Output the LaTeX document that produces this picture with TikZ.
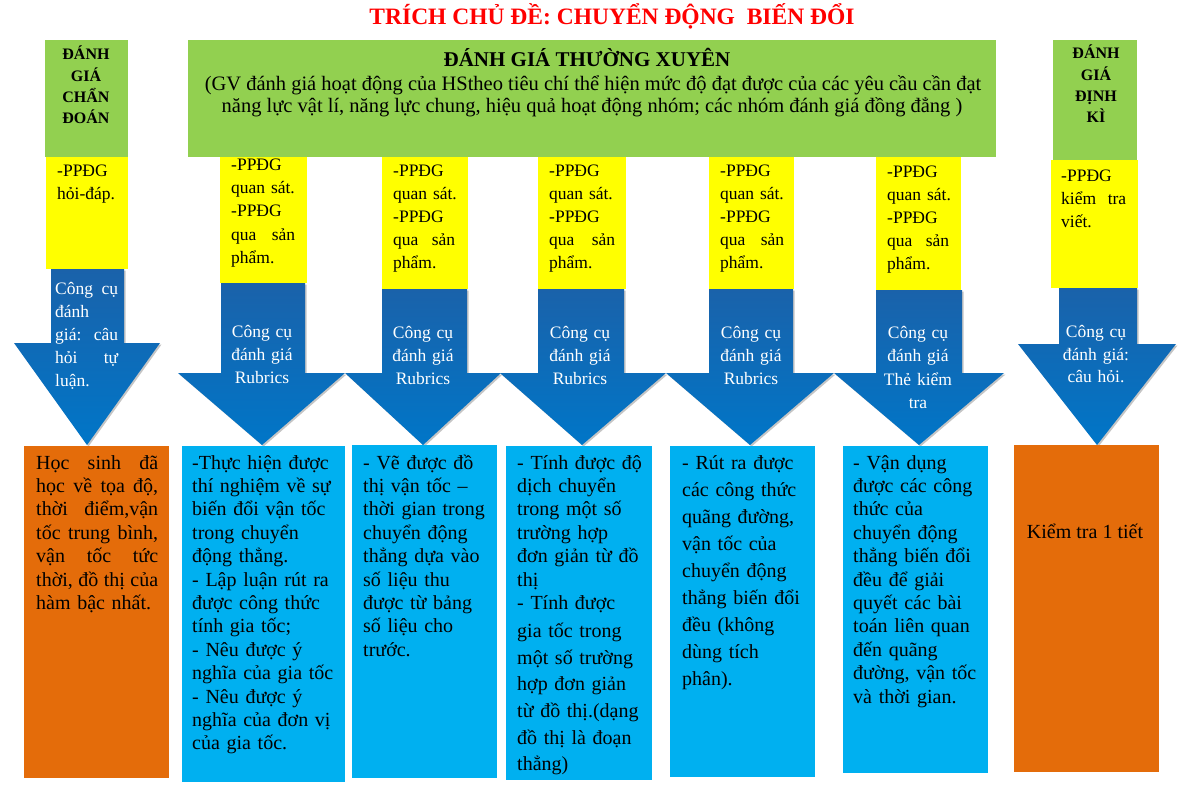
\documentclass[tikz,border=0pt]{standalone}
\usepackage{fontspec}
\setmainfont{Liberation Serif}
\usetikzlibrary{shadows}
\definecolor{grn}{HTML}{92D050}
\definecolor{yel}{HTML}{FFFF00}
\definecolor{lbl}{HTML}{00B0F0}
\definecolor{org}{HTML}{E46C0A}
\definecolor{arb}{HTML}{0076C8}
\definecolor{ard}{HTML}{1A62AA}
\newcommand\jl[2]{\leavevmode\hbox to #1pt{#2}}
\newcommand\fsA{\fontsize{20pt}{23.4pt}\selectfont}
\newcommand\fsB{\fontsize{17.5pt}{23pt}\selectfont}
\tikzset{
  box/.style={draw=none, inner sep=0, outer sep=0, anchor=north west},
  gbox/.style={box, fill=grn},
  ybox/.style={box, fill=yel},
  bbox/.style={box, fill=lbl},
  obox/.style={box, fill=org},
  darrow/.style={top color=ard, bottom color=arb, draw=none,
     drop shadow={shadow xshift=1.5pt, shadow yshift=-1.5pt, fill=black!45, opacity=0.5}},
  btxt/.style={inner sep=0, anchor=base west, align=left, font=\fsA},
  ytxt/.style={inner sep=0, anchor=base west, align=left, font=\fsB, text width=80},
  atxt/.style={inner sep=0, anchor=base, align=center, font=\fsB, text=white, text width=100},
  htxt/.style={inner sep=0, anchor=base, font=\bfseries\fontsize{16pt}{21.2pt}\selectfont, align=center, text width=80},
}
\begin{document}
\begin{tikzpicture}[x=1pt,y=-1pt]
\useasboundingbox (0,0) rectangle (1199,797);
\fill[white] (0,0) rectangle (1199,797);

% title
\node[inner sep=0, anchor=base, text=red, font=\bfseries\fontsize{23.5pt}{28pt}\selectfont] (title) at (612,25) {TRÍCH CHỦ ĐỀ: CHUYỂN ĐỘNG\ \ BIẾN ĐỔI};

% green boxes
\node[gbox, minimum width=83, minimum height=117] (gL) at (45,40) {};
\node[gbox, minimum width=808, minimum height=117] (gM) at (188,40) {};
\node[gbox, minimum width=84, minimum height=120] (gR) at (1053,40) {};

% yellow boxes
\node[ybox, minimum width=82, minimum height=112] (yL) at (46,157) {};
\node[ybox, minimum width=87, minimum height=126] (y1) at (220,157) {};
\node[ybox, minimum width=86, minimum height=132] (y2) at (382,157) {};
\node[ybox, minimum width=88, minimum height=132] (y3) at (538,157) {};
\node[ybox, minimum width=85, minimum height=132] (y4) at (709,157) {};
\node[ybox, minimum width=85, minimum height=133] (y5) at (876,157) {};
\node[ybox, minimum width=87, minimum height=128] (yR) at (1051,160) {};

% arrows
\path[darrow] (51,269) -- (124,269) -- (124,343) -- (160,343) -- (87,445) -- (14,343) -- (51,343) -- cycle;
\path[darrow] (221,283) -- (305,283) -- (305,373) -- (345,373) -- (262,445) -- (178,373) -- (221,373) -- cycle;
\path[darrow] (382,289) -- (467,289) -- (467,373) -- (501,373) -- (423,445) -- (345,373) -- (382,373) -- cycle;
\path[darrow] (538,289) -- (624,289) -- (624,373) -- (666,373) -- (582,445) -- (500,373) -- (538,373) -- cycle;
\path[darrow] (709,289) -- (793,289) -- (793,373) -- (834,373) -- (750,445) -- (666,373) -- (709,373) -- cycle;
\path[darrow] (876,290) -- (962,290) -- (962,373) -- (1004,373) -- (919,445) -- (834,373) -- (876,373) -- cycle;
\path[darrow] (1059,288) -- (1137,288) -- (1137,344) -- (1176,344) -- (1097,445) -- (1018,344) -- (1059,344) -- cycle;

% bottom boxes
\node[obox, minimum width=145, minimum height=332] (oL) at (24,446) {};
\node[bbox, minimum width=163, minimum height=336] (b1) at (182,446) {};
\node[bbox, minimum width=145, minimum height=333] (b2) at (352,445) {};
\node[bbox, minimum width=146, minimum height=334] (b3) at (506,446) {};
\node[bbox, minimum width=145, minimum height=331] (b4) at (670,446) {};
\node[bbox, minimum width=145, minimum height=327] (b5) at (843,446) {};
\node[obox, minimum width=145, minimum height=327] (oR) at (1014,445) {};

% header texts
\node[htxt] (tL) at (86,60) {ĐÁNH\\GIÁ\\CHẨN\\ĐOÁN};
\node[htxt] (tR) at (1096,59) {ĐÁNH\\GIÁ\\ĐỊNH\\KÌ};
\node[inner sep=0, anchor=base, font=\bfseries\fontsize{21pt}{24pt}\selectfont] (hd1) at (587,67) {ĐÁNH GIÁ THƯỜNG XUYÊN};
\node[inner sep=0, anchor=base, font=\fontsize{20.5pt}{23pt}\selectfont] (hd2) at (593,90.5) {(GV đánh giá hoạt động của HStheo tiêu chí thể hiện mức độ đạt được của các yêu cầu cần đạt};
\node[inner sep=0, anchor=base, font=\fontsize{20.5pt}{23pt}\selectfont] (hd3) at (592,112.5) {năng lực vật lí, năng lực chung, hiệu quả hoạt động nhóm; các nhóm đánh giá đồng đẳng )};

% yellow texts
\node[ytxt] (pL) at (57,176.5) {-PPĐG\\hỏi-đáp.};
\node[ytxt, font={\fontsize{17.5pt}{23.25pt}\selectfont}] (p1) at (231,170.5) {-PPĐG\\quan sát.\\-PPĐG\\\jl{64}{qua\hfill sản}\\phẩm.};
\node[ytxt] (p2) at (393,176.5) {-PPĐG\\quan sát.\\-PPĐG\\\jl{62}{qua\hfill sản}\\phẩm.};
\node[ytxt] (p3) at (549,176.5) {-PPĐG\\quan sát.\\-PPĐG\\\jl{66}{qua\hfill sản}\\phẩm.};
\node[ytxt] (p4) at (720,176.5) {-PPĐG\\quan sát.\\-PPĐG\\\jl{64}{qua\hfill sản}\\phẩm.};
\node[ytxt] (p5) at (887,177.5) {-PPĐG\\quan sát.\\-PPĐG\\\jl{62}{qua\hfill sản}\\phẩm.};
\node[ytxt] (pR) at (1061,181.5) {-PPĐG\\\jl{65}{kiểm\hfill tra}\\viết.};

% arrow texts
\node[ytxt, text=white] (cL) at (55,294.5) {\jl{63}{Công\hfill cụ}\\đánh\\\jl{63}{giá:\hfill câu}\\\jl{63}{hỏi\hfill tự}\\luận.};
\node[atxt] (c1) at (262,337.5) {Công cụ\\đánh giá\\Rubrics};
\node[atxt] (c2) at (423,338.5) {Công cụ\\đánh giá\\Rubrics};
\node[atxt] (c3) at (580,338.5) {Công cụ\\đánh giá\\Rubrics};
\node[atxt] (c4) at (751,338.5) {Công cụ\\đánh giá\\Rubrics};
\node[atxt, font={\fontsize{17.5pt}{23.3pt}\selectfont}] (c5) at (918,338.5) {Công cụ\\đánh giá\\Thẻ kiểm\\tra};
\node[atxt, font={\fontsize{17.5pt}{22.5pt}\selectfont}] (cR) at (1096,337.5) {Công cụ\\đánh giá:\\câu hỏi.};

% bottom texts
\node[btxt, text width=140] (sL) at (36,469) {\jl{122}{Học\hfill sinh\hfill đã}\\\jl{122}{học\hfill về\hfill tọa\hfill độ,}\\\jl{122}{thời\hfill điểm,vận}\\\jl{122}{tốc\hfill trung\hfill bình,}\\\jl{122}{vận\hfill tốc\hfill tức}\\\jl{122}{thời,\hfill đồ\hfill thị\hfill của}\\hàm bậc nhất.};
\node[btxt, text width=155] (s1) at (192,469) {-Thực hiện được\\thí nghiệm về sự\\biến đổi vận tốc\\trong chuyển\\động thẳng.\\- Lập luận rút ra\\được công thức\\tính gia tốc;\\- Nêu được ý\\nghĩa của gia tốc\\- Nêu được ý\\nghĩa của đơn vị\\của gia tốc.};
\node[btxt, text width=140] (s2) at (363,469) {- Vẽ được đồ\\thị vận tốc –\\thời gian trong\\chuyển động\\thẳng dựa vào\\số liệu thu\\được từ bảng\\số liệu cho\\trước.};
\node[btxt, text width=140] (s3) at (517,469) {- Tính được độ\\dịch chuyển\\trong một số\\trường hợp\\đơn giản từ đồ\\thị\\- Tính được\\[4.6pt]gia tốc trong\\[3.3pt]một số trường\\[3.3pt]hợp đơn giản\\[3.3pt]từ đồ thị.(dạng\\[3.3pt]đồ thị là đoạn\\[3.3pt]thẳng)};
\node[btxt, text width=140, font={\fontsize{20pt}{27.1pt}\selectfont}] (s4) at (682,469) {- Rút ra được\\các công thức\\quãng đường,\\vận tốc của\\chuyển động\\thẳng biến đổi\\đều (không\\dùng tích\\phân).};
\node[btxt, text width=140] (s5) at (853,469) {- Vận dụng\\được các công\\thức của\\chuyển động\\thẳng biến đổi\\đều để giải\\quyết các bài\\toán liên quan\\đến quãng\\đường, vận tốc\\và thời gian.};
\node[inner sep=0, anchor=base, font=\fsA] (sR) at (1085,538) {Kiểm tra 1 tiết};
\end{tikzpicture}
\end{document}
